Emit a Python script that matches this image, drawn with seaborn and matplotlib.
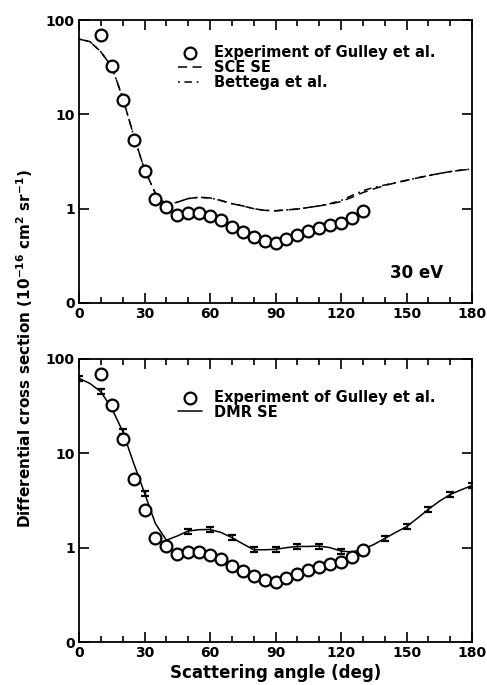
import numpy as np
import pandas as pd
import matplotlib
matplotlib.use("Agg")
import matplotlib.pyplot as plt
import seaborn as sns
from matplotlib.ticker import FixedLocator, MultipleLocator, NullLocator

# ---------------- data ----------------
exp_angle = [10, 15, 20, 25, 30, 35, 40, 45, 50, 55, 60, 65, 70, 75, 80, 85,
             90, 95, 100, 105, 110, 115, 120, 125, 130]
exp_dcs = [69.5, 32.3, 14.2, 5.4, 2.5, 1.27, 1.04, 0.85, 0.90, 0.90, 0.84, 0.76,
           0.645, 0.57, 0.50, 0.45, 0.435, 0.48, 0.525, 0.575, 0.63, 0.67, 0.71,
           0.80, 0.94]

theory_angle = [0, 5, 10, 15, 20, 25, 30, 35, 40, 45, 50, 55, 60, 65, 70, 75, 80,
                85, 90, 95, 100, 105, 110, 115, 120, 125, 130, 135, 140, 145, 150,
                155, 160, 165, 170, 175, 180]
sce_se = [62.7, 59, 46, 32, 15, 6.0, 2.6, 1.45, 1.1, 1.17, 1.28, 1.32, 1.30, 1.22,
          1.13, 1.07, 1.0, 0.96, 0.95, 0.97, 0.99, 1.03, 1.07, 1.12, 1.19, 1.32,
          1.48, 1.62, 1.76, 1.88, 1.99, 2.12, 2.24, 2.36, 2.47, 2.56, 2.63]
bettega = [62.7, 59, 46, 32, 15, 6.0, 2.6, 1.45, 1.1, 1.17, 1.28, 1.32, 1.30, 1.22,
           1.13, 1.07, 1.0, 0.96, 0.95, 0.97, 0.99, 1.03, 1.07, 1.13, 1.22, 1.38,
           1.55, 1.68, 1.78, 1.89, 2.0, 2.12, 2.24, 2.36, 2.47, 2.56, 2.63]
dmr_se = [62.5, 55, 45, 30, 17.1, 7.9, 3.8, 1.8, 1.2, 1.33, 1.50, 1.55, 1.56, 1.45,
          1.28, 1.10, 0.95, 0.95, 0.96, 1.0, 1.03, 1.03, 1.04, 1.0, 0.92, 0.90,
          0.96, 1.08, 1.25, 1.45, 1.67, 2.05, 2.55, 3.1, 3.66, 4.1, 4.56]
dmr_err_angle = [0, 10, 20, 30, 50, 60, 70, 80, 90, 100, 110, 120, 130, 140, 150,
                 160, 170, 180]
dmr_err_val = [62.5, 45, 17.1, 3.8, 1.50, 1.56, 1.28, 0.95, 0.96, 1.03, 1.04, 0.92,
               0.96, 1.25, 1.67, 2.55, 3.66, 4.56]

y_ticks = [0.1, 1, 10, 100]
y_ticklabels = ["0", "1", "10", "100"]
x_ticks = [0, 30, 60, 90, 120, 150, 180]

# ---------------- style ----------------
sns.set_theme(style="ticks")
plt.rcParams['font.family'] = ['DejaVu Sans']
plt.rcParams['font.weight'] = 'bold'
plt.rcParams['mathtext.default'] = 'bf'
for key in ('text.color', 'axes.labelcolor', 'xtick.color', 'ytick.color',
            'axes.edgecolor'):
    plt.rcParams[key] = 'black'

W, H = 487, 685
fig = plt.figure(figsize=(W / 100, H / 100), dpi=100)
ax1 = fig.add_axes([79 / W, 1 - 303 / H, 393 / W, 283 / H])
ax2 = fig.add_axes([79 / W, 1 - 642 / H, 393 / W, 283 / H])

df_exp = pd.DataFrame({"angle": exp_angle, "dcs": exp_dcs})
df_th = pd.DataFrame({"angle": theory_angle, "sce": sce_se, "bet": bettega,
                      "dmr": dmr_se})

marker_kw = dict(marker="o", s=72, facecolor="white", edgecolor="black",
                 linewidth=1.6, zorder=5)

# top panel
sns.lineplot(data=df_th, x="angle", y="sce", ax=ax1, color="black", lw=1.1,
             label="SCE SE", zorder=3)
ax1.lines[-1].set_dashes([6, 3.5])
sns.lineplot(data=df_th, x="angle", y="bet", ax=ax1, color="black", lw=1.1,
             label="Bettega et al.", zorder=3)
ax1.lines[-1].set_dashes([1.2, 3, 5, 3])
sns.scatterplot(data=df_exp, x="angle", y="dcs", ax=ax1,
                label="Experiment of Gulley et al.", **marker_kw)

# bottom panel
sns.lineplot(data=df_th, x="angle", y="dmr", ax=ax2, color="black", lw=1.1,
             label="DMR SE", zorder=3)
err = np.array(dmr_err_val) * 0.06
ax2.errorbar(dmr_err_angle, dmr_err_val, yerr=err, fmt="none", ecolor="black",
             elinewidth=1.0, capsize=2.8, capthick=1.6, zorder=4)
sns.scatterplot(data=df_exp, x="angle", y="dcs", ax=ax2,
                label="Experiment of Gulley et al.", **marker_kw)

for ax in (ax1, ax2):
    ax.set_yscale("log")
    ax.set_xlim(0, 180)
    ax.set_ylim(0.1, 100)
    ax.yaxis.set_major_locator(FixedLocator(y_ticks))
    ax.set_yticklabels(y_ticklabels)
    ax.yaxis.set_minor_locator(NullLocator())
    ax.xaxis.set_major_locator(FixedLocator(x_ticks))
    ax.xaxis.set_minor_locator(MultipleLocator(10))
    ax.tick_params(which="both", direction="in", top=True, right=True,
                   labelsize=10, width=1.2, pad=3, colors="black")
    ax.tick_params(which="major", length=7)
    ax.tick_params(which="minor", length=4)
    for lab in ax.get_xticklabels() + ax.get_yticklabels():
        lab.set_fontweight("bold")
    for s in ax.spines.values():
        s.set_linewidth(1.3)
        s.set_color("black")
    ax.set_xlabel("")
    ax.set_ylabel("")

# legends
leg_prop = dict(size=10.5, weight="bold")
h1, l1 = ax1.get_legend_handles_labels()
order = [2, 0, 1]
ax1.legend([h1[i] for i in order], [l1[i] for i in order], loc="upper left",
           bbox_to_anchor=(0.2525, 0.913), frameon=False, handlelength=1.6,
           handletextpad=0.85, labelspacing=0.0, borderaxespad=0, borderpad=0,
           prop=leg_prop, labelcolor="black")
h2, l2 = ax2.get_legend_handles_labels()
ax2.legend([h2[1], h2[0]], [l2[1], l2[0]], loc="upper left",
           bbox_to_anchor=(0.2525, 0.892), frameon=False, handlelength=1.6,
           handletextpad=0.85, labelspacing=0.0, borderaxespad=0, borderpad=0,
           prop=leg_prop, labelcolor="black")

ax1.text((443 - 79) / 393, 0.106, "30 eV", transform=ax1.transAxes, ha="right",
         va="center", fontsize=12, fontweight="bold", color="black")

fig.text(275.5 / W, 1 - 673 / H, "Scattering angle (deg)", ha="center",
         va="center", fontsize=12, fontweight="bold", color="black")
fig.text(25 / W, 1 - 348 / H,
         r"Differential cross section (10$^{-16}$ cm$^{2}$ sr$^{-1}$)",
         rotation=90, ha="center", va="center", fontsize=11,
         fontweight="bold", color="black")

fig.savefig("out.png", dpi=100, facecolor="white")
